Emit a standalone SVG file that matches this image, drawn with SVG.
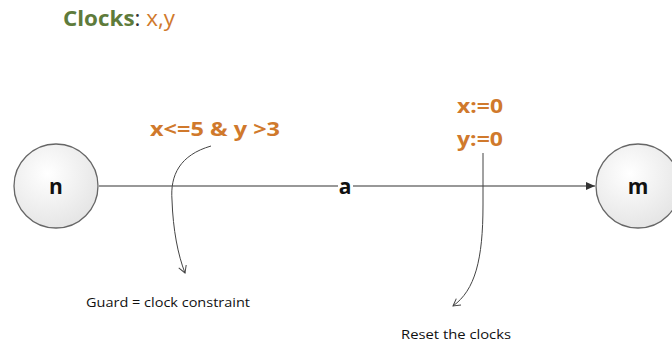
<svg xmlns="http://www.w3.org/2000/svg" width="672" height="347" viewBox="0 0 672 347">
<style>
.state{fill:url(#g);stroke:#666;stroke-width:1.3}
.lbl{font-family:"Open Sans","Liberation Sans",sans-serif;font-weight:bold;font-size:21px;fill:#111;text-anchor:middle}
.or{font-family:"Open Sans","Liberation Sans",sans-serif;font-weight:bold;fill:#d0792c}
.note{font-family:"Open Sans","Liberation Sans",sans-serif;font-size:13px;fill:#111}
.edge{fill:none;stroke:#333;stroke-width:1.2}
.curve{fill:none;stroke:#444;stroke-width:1}
</style>
<defs>
<radialGradient id="g" cx="0.4" cy="0.35" r="0.7">
<stop offset="0" stop-color="#ffffff"/>
<stop offset="1" stop-color="#e4e4e4"/>
</radialGradient>
<marker id="arr" markerWidth="10" markerHeight="10" refX="9" refY="5" orient="auto" markerUnits="userSpaceOnUse">
<path d="M0,1 L9,5 L0,9 z" fill="#333"/>
</marker>
<marker id="open" markerWidth="10" markerHeight="10" refX="8" refY="5" orient="auto" markerUnits="userSpaceOnUse">
<path d="M1,1 L8,5 L1,9" fill="none" stroke="#444" stroke-width="1"/>
</marker>
</defs>
<rect width="672" height="347" fill="#fff"/>
<text x="63" y="26" font-family="'Open Sans','Liberation Sans',sans-serif" font-size="21" textLength="112" lengthAdjust="spacingAndGlyphs"><tspan fill="#5e7b3b" font-weight="bold">Clocks</tspan><tspan fill="#333">: </tspan><tspan fill="#d0792c">x,y</tspan></text>
<g id="connectors">
<line class="edge" x1="99" y1="186" x2="595" y2="186" marker-end="url(#arr)"/>
<rect x="338" y="178" width="15" height="16" fill="#fff"/>
<text class="lbl" x="345" y="194">a</text>
<path class="curve" d="M211,146 C180,155 170,175 172,200 C173,230 178,255 185,273" marker-end="url(#open)"/>
<path class="curve" d="M483,153 L483,205 C483,260 475,290 453,306" marker-end="url(#open)"/>
</g>
<g id="node-n">
<circle class="state" cx="56" cy="186" r="42"/>
<text class="lbl" x="56" y="194">n</text>
</g>
<g id="node-m">
<circle class="state" cx="638" cy="186" r="42"/>
<text class="lbl" x="638" y="194">m</text>
</g>
<g id="guard">
<text class="or" x="150" y="136" font-size="20" textLength="130" lengthAdjust="spacingAndGlyphs">x&lt;=5 &amp; y &gt;3</text>
<text class="note" x="86" y="307" textLength="164" lengthAdjust="spacingAndGlyphs">Guard = clock constraint</text>
</g>
<g id="reset">
<text class="or" x="457" y="113" font-size="20" textLength="46" lengthAdjust="spacingAndGlyphs">x:=0</text>
<text class="or" x="457" y="146" font-size="20" textLength="46" lengthAdjust="spacingAndGlyphs">y:=0</text>
<text class="note" x="401" y="339" textLength="110" lengthAdjust="spacingAndGlyphs">Reset the clocks</text>
</g>
</svg>
